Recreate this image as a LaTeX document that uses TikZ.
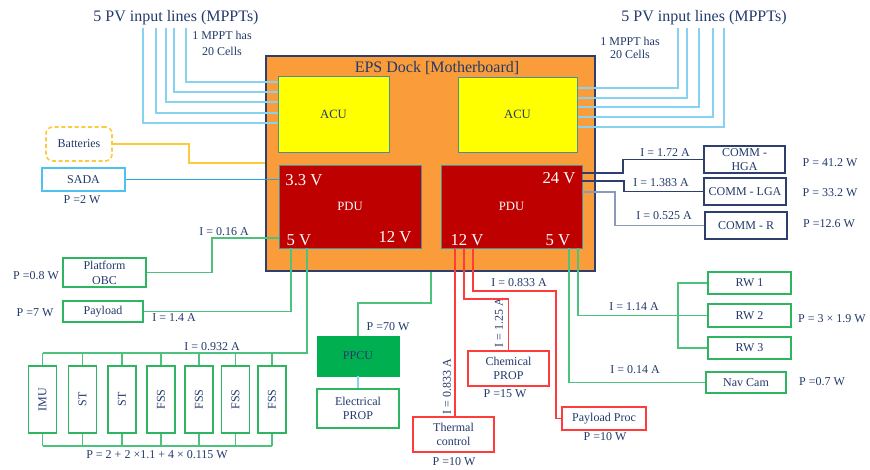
\documentclass[tikz,border=0pt]{standalone}
\usepackage{fontspec}
\setmainfont{Liberation Serif}
\definecolor{navytxt}{HTML}{223A6B}
\definecolor{navyline}{HTML}{2E3F6E}
\definecolor{slateline}{HTML}{8A9BB8}
\definecolor{dockorange}{HTML}{FA9C3A}
\definecolor{acuyellow}{HTML}{FFFF00}
\definecolor{tealedge}{HTML}{4A8DA0}
\definecolor{pdured}{HTML}{BF0000}
\definecolor{pvblue}{HTML}{86D2F0}
\definecolor{battyellow}{HTML}{FFC93C}
\definecolor{sadablue}{HTML}{4FC1EF}
\definecolor{sadaline}{HTML}{2BA3D6}
\definecolor{greenline}{HTML}{4CC27C}
\definecolor{greenedge}{HTML}{2DB560}
\definecolor{ppcugreen}{HTML}{00B050}
\definecolor{redline}{HTML}{FF3B3B}

\begin{document}
\begin{tikzpicture}[x=0.75pt, y=-0.75pt,
  sz/.style 2 args={minimum width=#1*0.75pt, minimum height=#2*0.75pt},
  lbl/.style={text=navytxt, font=\fontsize{9}{11}\selectfont, inner sep=0pt, align=center},
  titulo/.style={text=navytxt, font=\fontsize{12}{14}\selectfont, inner sep=0pt},
  volt/.style={text=white, font=\fontsize{12.5}{14}\selectfont, inner sep=0pt},
  caixa/.style={draw, line width=1pt, fill=white, text=navytxt,
    font=\fontsize{9}{11}\selectfont, inner sep=0pt, align=center},
  gcaixa/.style={caixa, draw=greenedge},
  rcaixa/.style={caixa, draw=redline},
  ncaixa/.style={caixa, draw=navyline},
  fio/.style={line width=0.9pt},
  gfio/.style={fio, greenline},
  rfio/.style={fio, redline},
  pvfio/.style={fio, pvblue},
  nfio/.style={fio, navyline}]

\useasboundingbox (0,0) rectangle (870,470);

% ================= EPS dock =================
\node[draw=navyline, line width=1pt, fill=dockorange, sz={329}{215}] (dock) at (430.5,163.5) {};
\node[titulo] (docktit) at (437,68) {EPS Dock [Motherboard]};

% PV input lines
\node[titulo] (pvtitL) at (176,18) {5 PV input lines (MPPTs)};
\node[lbl, font=\fontsize{9}{12}\selectfont] (mpptL) at (222,43) {1 MPPT has\\20 Cells};
\node[titulo] (pvtitR) at (704,18) {5 PV input lines (MPPTs)};
\node[lbl, font=\fontsize{9}{10}\selectfont] (mpptR) at (630,48) {1 MPPT has\\20 Cells};

\foreach \x/\y [count=\i] in {143/123,156/113,166/102,174/92,186/82} {
  \coordinate (pvL\i) at (\x,28);
  \draw[pvfio] (pvL\i) |- (279,\y);
}
\foreach \x/\y [count=\i] in {678/88,687/98,699/107,713/117,724/127} {
  \coordinate (pvR\i) at (\x,28);
  \draw[pvfio] (pvR\i) |- (577,\y);
}

\node[draw=tealedge, fill=acuyellow, text=navytxt, font=\fontsize{9.5}{11}\selectfont, sz={111}{76}] (acuL) at (333.5,114) {ACU};
\node[draw=tealedge, fill=acuyellow, text=navytxt, font=\fontsize{9.5}{11}\selectfont, sz={119}{75}] (acuR) at (517.5,114.5) {ACU};
\node[draw=tealedge, fill=pdured, text=white, font=\fontsize{9.5}{11}\selectfont, sz={142}{83}] (pduL) at (350,206.5) {PDU};
\node[draw=tealedge, fill=pdured, text=white, font=\fontsize{9.5}{11}\selectfont, sz={141}{83}] (pduR) at (511.5,206.5) {PDU};

\node[volt] (v33) at (304,180) {3.3 V};
\node[volt] (v5L) at (299,240) {5 V};
\node[volt] (v12L) at (395,237) {12 V};
\node[volt] (v24) at (559,178) {24 V};
\node[volt] (v12R) at (467,240) {12 V};
\node[volt] (v5R) at (558,240) {5 V};

% ================= left side =================
\node[caixa, draw=battyellow, dashed, dash pattern=on 3pt off 2pt, rounded corners=5pt, line width=1.2pt, sz={66}{34}] (batt) at (79,144) {Batteries};
\draw[fio, battyellow] (batt.east) -| (189,163) -- (dock.west |- 0,163);

\node[caixa, draw=sadablue, line width=1.5pt, sz={83}{23}] (sada) at (83.5,179.5) {SADA};
\node[lbl] (psada) at (82,200) {P =2 W};
\draw[fio, sadaline] (sada.east) -- (pduL.west |- sada.east);

\node[gcaixa, sz={83}{29}] (obc) at (104.5,272.5) {Platform\\OBC};
\node[lbl] (pobc) at (36,276) {P =0.8 W};
\node[lbl] (iobc) at (224,232) {I = 0.16 A};
\draw[gfio] (obc.east) -| (212,238) -- (pduL.west |- 0,238);

\node[gcaixa, sz={80}{21}] (pay) at (103,311.5) {Payload};
\node[lbl] (ppay) at (35,313) {P =7 W};
\node[lbl] (ipay) at (174,318) {I = 1.4 A};
\draw[gfio] (pay.east) -| (pduL.south -| 291,0);

% sensors
\foreach \n/\t/\x in {imu/IMU/42.5, st1/ST/82.5, st2/ST/122, fss1/FSS/161,
                      fss2/FSS/199, fss3/FSS/235.5, fss4/FSS/272} {
  \node[gcaixa, sz={28}{67}] (\n) at (\x,399.5) {\rotatebox{90}{\t}};
  \draw[gfio] (\n.north) -- (\n.north |- 0,353);
  \draw[gfio] (\n.south) -- (\n.south |- 0,446);
}
\draw[gfio] (pduL.south -| 307,0) |- (imu.north |- 0,353);
\draw[gfio] (imu.south |- 0,446) -- (fss4.south |- 0,446);
\node[lbl] (isens) at (212,347) {I = 0.932 A};
\node[lbl] (psens) at (157,455) {P = 2 + 2 ×1.1 + 4 × 0.115 W};

% ================= bottom =================
\node[draw=ppcugreen, fill=ppcugreen, text=navytxt, font=\fontsize{9}{11}\selectfont, sz={82}{40}] (ppcu) at (358,356) {PPCU};
\node[gcaixa, sz={82}{39}] (eprop) at (358,408.5) {Electrical\\PROP};
\node[lbl] (pppcu) at (388,327) {P =70 W};
\draw[gfio] (dock.south -| 431,0) |- (ppcu.north |- 0,303) -- (ppcu.north);
\draw[pvfio] (ppcu.south) -- (eprop.north);

\node[rcaixa, sz={81}{35}] (therm) at (453.5,434.5) {Thermal\\control};
\node[lbl] (ptherm) at (454,462) {P =10 W};
\node[lbl, rotate=90] (itherm) at (447,387) {I = 0.833 A};
\draw[rfio] (pduR.south -| 455,0) -- (therm.north -| 455,0);

\node[rcaixa, sz={81}{35}] (chem) at (508.5,368.5) {Chemical\\PROP};
\node[lbl] (pchem) at (505,394) {P =15 W};
\node[lbl, rotate=90] (ichem) at (499,323) {I = 1.25 A};
\draw[rfio] (pduR.south -| 464,0) |- (chem.north |- 0,299) -- (chem.north);

\node[rcaixa, sz={84}{23}] (pproc) at (604,418.5) {Payload Proc};
\node[lbl] (ppproc) at (605,437) {P =10 W};
\node[lbl] (ipproc) at (519,283) {I = 0.833 A};
\draw[rfio] (pduR.south -| 473,0) |- (556,291) |- (pproc.west);

% ================= right side =================
\node[gcaixa, sz={83}{22}] (rw1) at (749.5,283) {RW 1};
\node[gcaixa, sz={83}{23}] (rw2) at (749.5,315.5) {RW 2};
\node[gcaixa, sz={83}{22}] (rw3) at (749.5,348) {RW 3};
\node[lbl] (prw) at (832,319) {P = 3 × 1.9 W};
\node[lbl] (irw) at (634,307) {I = 1.14 A};
\draw[gfio] (pduR.south -| 578,0) |- (rw2.west);
\draw[gfio] (rw1.west) -| (678,0 |- rw3.west) -- (rw3.west);

\node[gcaixa, sz={80}{21}] (nav) at (746,382.5) {Nav Cam};
\node[lbl] (pnav) at (822,382) {P =0.7 W};
\node[lbl] (inav) at (635,370) {I = 0.14 A};
\draw[gfio] (pduR.south -| 569,0) |- (nav.west);

\node[ncaixa, sz={81}{27}] (hga) at (744.5,159.5) {COMM -\\HGA};
\node[ncaixa, sz={82}{27}] (lga) at (745,191.5) {COMM - LGA};
\node[ncaixa, sz={82}{27}] (commr) at (746,225.5) {COMM - R};
\node[lbl] (ihga) at (665,153) {I = 1.72 A};
\node[lbl] (ilga) at (661,183) {I = 1.383 A};
\node[lbl] (icommr) at (664,216) {I = 0.525 A};
\node[lbl] (phga) at (830,163) {P = 41.2 W};
\node[lbl] (plga) at (830,193) {P = 33.2 W};
\node[lbl] (pcommr) at (829,224) {P =12.6 W};
\draw[nfio] (pduR.east |- 0,173) -| (623,0 |- hga.west) -- (hga.west);
\draw[nfio] (pduR.east |- 0,181) -| (624,0 |- lga.west) -- (lga.west);
\draw[fio, slateline] (pduR.east |- 0,192) -| (615,0 |- commr.west) -- (commr.west);

\end{tikzpicture}
\end{document}
